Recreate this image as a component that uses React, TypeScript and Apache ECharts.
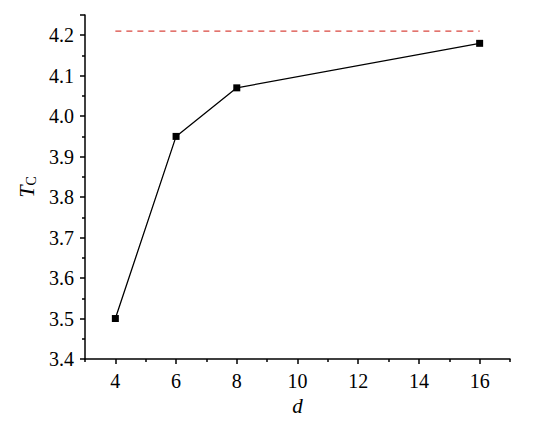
import React, { useEffect, useRef } from "react";
import * as echarts from "echarts";

const dValues = [4, 6, 8, 16];
const tcValues = [3.5, 3.95, 4.07, 4.18];
const refLineX = [4, 16];
const refValue = 4.21;
const xTickLabels = [4, 6, 8, 10, 12, 14, 16];
const xMinorTicks = [3, 5, 7, 9, 11, 13, 15, 17];

const FONT = "Liberation Serif";

export default function App() {
  const ref = useRef<HTMLDivElement>(null);
  useEffect(() => {
    if (!ref.current) return;
    const chart = echarts.init(ref.current, null, { renderer: "svg" });
    const labelStyle = { fontFamily: FONT, fontSize: 20, color: "#000" };
    chart.setOption({
      animation: false,
      backgroundColor: "#ffffff",
      textStyle: { fontFamily: FONT, fontSize: 20, color: "#000" },
      grid: { left: 85, right: 27, top: 15, bottom: 65 },
      xAxis: [
        {
          type: "value",
          min: 3,
          max: 17,
          interval: 1,
          name: "d",
          nameLocation: "middle",
          nameGap: 36,
          nameTextStyle: { fontFamily: FONT, fontSize: 21, fontStyle: "italic", color: "#000" },
          axisLine: { show: true, onZero: false, lineStyle: { color: "#000", width: 1.5 } },
          axisTick: { show: true, inside: false, length: 5, customValues: xTickLabels, lineStyle: { color: "#000", width: 1.5 } },
          axisLabel: { ...labelStyle, customValues: xTickLabels, margin: 12 },
          splitLine: { show: false },
        },
        {
          type: "value",
          min: 3,
          max: 17,
          position: "bottom",
          axisLine: { show: false },
          axisTick: { show: true, length: 3, customValues: xMinorTicks, lineStyle: { color: "#000", width: 1.5 } },
          axisLabel: { show: false },
          splitLine: { show: false },
        },
      ],
      yAxis: {
        type: "value",
        min: 3.4,
        max: 4.25,
        interval: 0.1,
        name: "{i|T}{s|C}",
        nameLocation: "middle",
        nameRotate: 90,
        nameGap: 46,
        nameTextStyle: {
          rich: {
            i: { fontFamily: FONT, fontSize: 22, fontStyle: "italic", color: "#000" },
            s: { fontFamily: FONT, fontSize: 14, color: "#000", padding: [10, 0, 0, 0] },
          },
        },
        axisLine: { show: true, lineStyle: { color: "#000", width: 1.5 } },
        axisTick: { show: true, length: 5, lineStyle: { color: "#000", width: 1.5 } },
        minorTick: { show: true, splitNumber: 2, length: 3, lineStyle: { color: "#000", width: 1.5 } },
        axisLabel: {
          ...labelStyle,
          margin: 11,
          formatter: (v: number) => (Math.abs(v - 4.25) < 1e-6 ? "" : v.toFixed(1)),
        },
        splitLine: { show: false },
      },
      series: [
        {
          type: "line",
          data: dValues.map((d, i) => [d, tcValues[i]]),
          symbol: "rect",
          symbolSize: 7,
          itemStyle: { color: "#000" },
          lineStyle: { color: "#000", width: 1.3 },
        },
        {
          type: "line",
          data: refLineX.map((d) => [d, refValue]),
          symbol: "none",
          lineStyle: { color: "#d9473f", width: 1.3, type: [6, 5] },
        },
      ],
    });
    return () => chart.dispose();
  }, []);
  return <div ref={ref} style={{ width: 537, height: 424, margin: -8 }} />;
}
